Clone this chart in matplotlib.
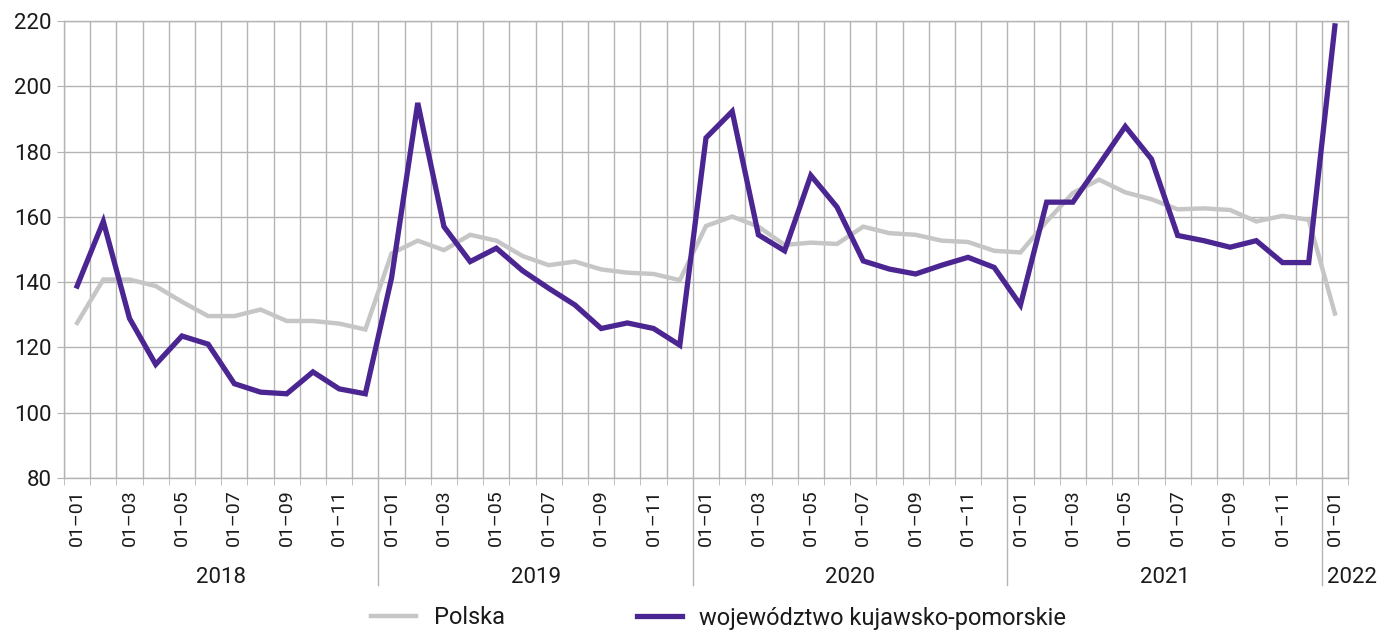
import numpy as np
import matplotlib
matplotlib.use("Agg")
from matplotlib import pyplot as plt
from matplotlib import transforms

plt.rcParams['font.family'] = ['Roboto', 'DejaVu Sans']
plt.rcParams['text.color'] = '#1a1a1a'
plt.rcParams['xtick.labelcolor'] = '#1a1a1a'
plt.rcParams['ytick.labelcolor'] = '#1a1a1a'

years = ['2018', '2019', '2020', '2021', '2022']
months = [(y, m) for y in years[:-1] for m in range(1, 13)] + [('2022', 1)]

polska = [127.5, 140.8, 140.8, 138.8, 134.0, 129.6, 129.6, 131.6, 128.1, 128.1, 127.3, 125.5,
          148.8, 152.7, 149.8, 154.5, 152.7, 148.0, 145.2, 146.3, 143.9, 142.9, 142.5, 140.6,
          157.2, 160.1, 157.0, 151.4, 152.1, 151.7, 157.0, 155.0, 154.5, 152.7, 152.3, 149.6,
          149.1, 158.6, 167.3, 171.4, 167.5, 165.4, 162.3, 162.6, 162.1, 158.6, 160.3, 159.1,
          130.4]
kujawsko = [138.8, 158.6, 128.9, 114.8, 123.5, 121.0, 108.9, 106.3, 105.8, 112.5, 107.3, 105.8,
            141.3, 194.9, 157.0, 146.3, 150.4, 143.5, 138.1, 133.0, 125.8, 127.5, 125.8, 120.7,
            184.2, 192.3, 154.5, 149.6, 172.7, 163.0, 146.5, 144.0, 142.5, 145.2, 147.6, 144.5,
            133.0, 164.5, 164.5, 176.0, 187.7, 177.7, 154.3, 152.7, 150.7, 152.7, 146.0, 146.0,
            218.5]

grid_col = '#b4b4b4'
x = np.arange(len(months))

fig = plt.figure(figsize=(13.77, 6.32), dpi=100)
ax = fig.add_axes([64 / 1377, 1 - 478 / 632, (1348 - 64) / 1377, (478 - 21) / 632])

ax.plot(x, polska, color='#c6c6c6', lw=3.2, solid_joinstyle='miter', label='Polska', zorder=3)
ax.plot(x, kujawsko, color='#4b2591', lw=3.8, solid_joinstyle='miter',
        label='województwo kujawsko-pomorskie', zorder=4)

ax.set_xlim(-0.5, len(months) - 0.5)
ax.set_ylim(80, 220)
ax.set_yticks(np.arange(80, 221, 20))
ax.set_xticks(x[::2])
ax.set_xticklabels(['01–%02d' % m for (y, m) in months[::2]], rotation=90, fontsize=14)
ax.set_xticks(np.arange(-0.5, len(months)), minor=True)
ax.tick_params(axis='x', which='major', length=0, pad=8)
ax.tick_params(axis='x', which='minor', length=5, color=grid_col)
ax.tick_params(axis='y', length=5, color=grid_col, labelsize=16, pad=4)
ax.grid(True, which='minor', axis='x', color=grid_col, lw=1)
ax.grid(True, which='major', axis='y', color=grid_col, lw=1)
for s in ax.spines.values():
    s.set_color(grid_col)
    s.set_linewidth(1)

# year groups under the month labels
trans = transforms.blended_transform_factory(ax.transData, ax.transAxes)
for i, yr in enumerate(years):
    start = i * 12 - 0.5
    if i > 0:
        ax.plot([start, start], [0, -0.235], transform=trans, color=grid_col, lw=1, clip_on=False)
    if yr == '2022':
        ax.text(start + 0.2, -0.217, yr, transform=trans, ha='left', va='center', fontsize=16)
    else:
        ax.text(start + 6, -0.217, yr, transform=trans, ha='center', va='center', fontsize=16)

fig.legend(loc='center', bbox_to_anchor=(0.522, 1 - 618 / 632), ncol=2, frameon=False,
           fontsize=17, handlelength=1.9, handletextpad=0.75, columnspacing=5.6)

fig.savefig('out.png', dpi=100)
